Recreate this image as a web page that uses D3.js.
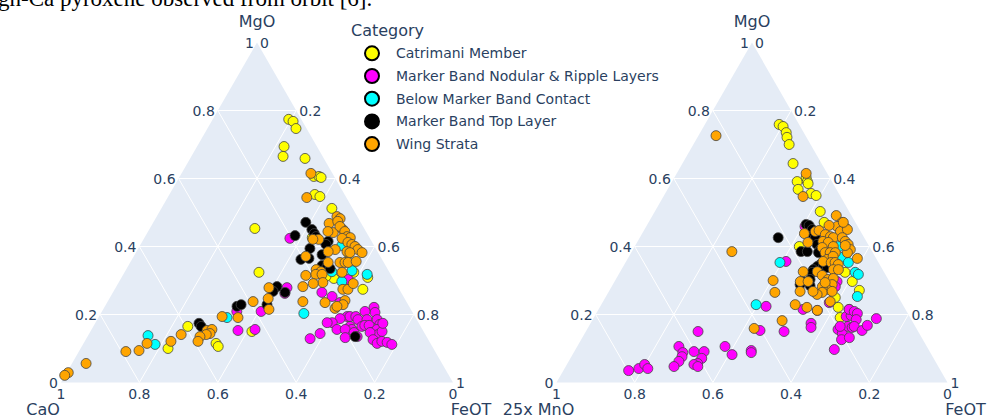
<!DOCTYPE html>
<html>
<head>
<meta charset="utf-8">
<script src="https://cdn.jsdelivr.net/npm/d3@7"></script>
<style>
	body { margin: 0; background: #fff; }
	text { font-family: "DejaVu Sans", Verdana, sans-serif; fill: #2a3f5f; }
</style>
</head>
<body>
<div id="root"></div>
<script>
const C = {
	width: 1002,
	height: 419,
	bg: '#E5ECF6',
	left: { cx: 257, top: 42.5, base: 382.5, half: 196 },
	right: { cx: 752, top: 42.5, base: 382.5, half: 195.5 },
	legend: { x: 351, y: 30, step: 22.7 }
}

// categories and their colours (drawn in this order)
const categories = ['Catrimani Member', 'Marker Band Nodular & Ripple Layers', 'Below Marker Band Contact', 'Marker Band Top Layer', 'Wing Strata']
const colors = ['#ffff00', '#ff00ff', '#00ffff', '#000000', '#ffa500']

const ticks = [0, 0.2, 0.4, 0.6, 0.8, 1]

// left diagram: [MgO, CaO], FeOT is the remainder of the normalised sum
const catrimaniCaO = [[0.774,0.032],[0.768,0.024],[0.747,0.027],[0.694,0.084],[0.665,0.101],[0.659,0.048],[0.606,0.052],[0.606,0.039],[0.603,0.035],[0.553,0.076],[0.547,0.066],[0.512,0.053],[0.453,0.279],[0.324,0.333],[0.426,0.146],[0.379,0.076],[0.324,0.091],[0.306,0.151],[0.312,0.168],[0.309,0.063],[0.274,0.093],[0.165,0.594],[0.1,0.677],[0.115,0.547],[0.106,0.546],[0.15,0.438]]
const noduleCaO = [[0.424,0.204],[0.409,0.120],[0.303,0.116],[0.265,0.202],[0.253,0.182],[0.235,0.171],[0.221,0.091],[0.206,0.096],[0.209,0.120],[0.194,0.173],[0.194,0.166],[0.194,0.151],[0.185,0.150],[0.188,0.194],[0.185,0.127],[0.185,0.101],[0.171,0.101],[0.176,0.220],[0.176,0.233],[0.156,0.218],[0.165,0.180],[0.156,0.180],[0.156,0.197],[0.147,0.179],[0.135,0.177],[0.165,0.150],[0.168,0.141],[0.168,0.130],[0.147,0.133],[0.156,0.116],[0.141,0.121],[0.147,0.138],[0.150,0.106],[0.126,0.141],[0.115,0.136],[0.121,0.121],[0.118,0.109],[0.112,0.100],[0.132,0.209],[0.144,0.267],[0.129,0.300],[0.262,0.298],[0.279,0.284],[0.209,0.447],[0.153,0.472],[0.209,0.385],[0.156,0.427],[0.174,0.092]]
const belowCaO = [[0.326,0.146],[0.297,0.135],[0.329,0.093],[0.318,0.060],[0.203,0.279],[0.191,0.481],[0.138,0.709],[0.112,0.704],[0.403,0.082]]
const topLayerCaO = [[0.471,0.140],[0.45,0.135],[0.438,0.135],[0.429,0.135],[0.432,0.187],[0.415,0.111],[0.406,0.121],[0.394,0.168],[0.376,0.146],[0.362,0.207],[0.365,0.185],[0.344,0.162],[0.341,0.151],[0.335,0.146],[0.265,0.296],[0.135,0.182],[0.282,0.308],[0.268,0.325],[0.224,0.439],[0.229,0.426],[0.229,0.360],[0.174,0.561],[0.165,0.560]]
const wingCaO = [[0.615,0.055],[0.544,0.101],[0.488,0.052],[0.482,0.047],[0.468,0.082],[0.474,0.057],[0.441,0.085],[0.45,0.056],[0.444,0.097],[0.459,0.059],[0.444,0.054],[0.429,0.056],[0.426,0.049],[0.424,0.071],[0.412,0.062],[0.406,0.055],[0.4,0.050],[0.391,0.047],[0.382,0.041],[0.385,0.078],[0.382,0.072],[0.391,0.105],[0.385,0.126],[0.421,0.132],[0.421,0.147],[0.371,0.190],[0.332,0.183],[0.326,0.174],[0.318,0.191],[0.318,0.175],[0.294,0.185],[0.291,0.211],[0.282,0.242],[0.353,0.142],[0.353,0.112],[0.353,0.099],[0.353,0.091],[0.356,0.069],[0.324,0.121],[0.274,0.144],[0.274,0.131],[0.291,0.109],[0.241,0.155],[0.229,0.166],[0.218,0.192],[0.224,0.184],[0.235,0.209],[0.238,0.264],[0.315,0.218],[0.279,0.330],[0.238,0.391],[0.247,0.348],[0.215,0.362],[0.194,0.492],[0.191,0.453],[0.153,0.551],[0.156,0.537],[0.144,0.548],[0.141,0.559],[0.135,0.578],[0.121,0.590],[0.141,0.623],[0.121,0.659],[0.115,0.723],[0.094,0.754],[0.091,0.789],[0.056,0.908],[0.029,0.967],[0.021,0.980]]

// right diagram: [MgO, 25x MnO], FeOT is the remainder
const catrimaniMnO = [[0.759,0.051],[0.753,0.044],[0.735,0.045],[0.721,0.050],[0.7,0.055],[0.644,0.073],[0.591,0.089],[0.603,0.060],[0.591,0.063],[0.585,0.064],[0.568,0.098],[0.556,0.071],[0.55,0.061],[0.503,0.074],[0.471,0.080],[0.4,0.179],[0.324,0.100],[0.297,0.095],[0.271,0.090],[0.221,0.169],[0.191,0.179],[0.25,0.162],[0.215,0.144]]
const noduleMnO = [[0.356,0.235],[0.459,0.135],[0.224,0.352],[0.153,0.403],[0.15,0.343],[0.15,0.563],[0.106,0.634],[0.088,0.633],[0.076,0.641],[0.062,0.656],[0.047,0.676],[0.091,0.603],[0.091,0.577],[0.071,0.593],[0.056,0.611],[0.053,0.622],[0.047,0.615],[0.106,0.516],[0.082,0.510],[0.094,0.455],[0.088,0.458],[0.035,0.798],[0.041,0.769],[0.053,0.748],[0.041,0.746],[0.097,0.241],[0.215,0.262],[0.212,0.227],[0.174,0.262],[0.162,0.268],[0.297,0.134],[0.282,0.146],[0.235,0.185],[0.156,0.202],[0.144,0.197],[0.126,0.208],[0.132,0.185],[0.194,0.162],[0.197,0.148],[0.215,0.144],[0.209,0.134],[0.203,0.129],[0.185,0.141],[0.165,0.172],[0.162,0.163],[0.165,0.156],[0.153,0.142],[0.168,0.121],[0.188,0.088],[0.165,0.192]]
const belowMnO = [[0.4,0.077],[0.368,0.085],[0.353,0.077],[0.324,0.074],[0.318,0.069],[0.253,0.104],[0.353,0.252],[0.229,0.375]]
const topLayerMnO = [[0.465,0.129],[0.462,0.123],[0.45,0.121],[0.435,0.126],[0.426,0.125],[0.406,0.131],[0.391,0.130],[0.382,0.139],[0.385,0.182],[0.385,0.166],[0.426,0.220],[0.347,0.152],[0.341,0.163],[0.332,0.177],[0.324,0.184],[0.297,0.223],[0.288,0.233],[0.285,0.209],[0.303,0.200],[0.341,0.147],[0.338,0.138]]
const wingMnO = [[0.726,0.229],[0.615,0.054],[0.547,0.096],[0.491,0.039],[0.471,0.034],[0.456,0.034],[0.459,0.053],[0.462,0.072],[0.444,0.052],[0.45,0.031],[0.444,0.116],[0.447,0.105],[0.435,0.095],[0.429,0.085],[0.438,0.147],[0.426,0.079],[0.426,0.056],[0.415,0.054],[0.415,0.111],[0.412,0.099],[0.4,0.092],[0.412,0.151],[0.406,0.051],[0.391,0.053],[0.382,0.065],[0.397,0.122],[0.382,0.122],[0.382,0.109],[0.382,0.096],[0.362,0.127],[0.371,0.107],[0.365,0.048],[0.356,0.140],[0.353,0.121],[0.353,0.111],[0.347,0.106],[0.332,0.126],[0.332,0.113],[0.326,0.170],[0.315,0.163],[0.326,0.206],[0.297,0.228],[0.303,0.154],[0.306,0.139],[0.288,0.151],[0.274,0.171],[0.282,0.179],[0.294,0.166],[0.265,0.188],[0.259,0.204],[0.268,0.210],[0.268,0.161],[0.238,0.181],[0.268,0.243],[0.229,0.275],[0.221,0.249],[0.212,0.227],[0.182,0.332],[0.3,0.296],[0.265,0.309],[0.159,0.415],[0.385,0.359],[0.297,0.208],[0.403,0.060],[0.471,0.031]]

const svg = d3.select('#root').append('svg')
	.attr('width', C.width)
	.attr('height', C.height)

// clipped line of the surrounding document text
svg.append('text')
	.attr('x', -2)
	.attr('y', 6)
	.style('font-family', '"Liberation Serif", serif')
	.style('font-size', '23px')
	.style('fill', '#000')
	.text('gh-Ca pyroxene observed from orbit [6].')

drawTernary(C.left, ['CaO', 'FeOT'], [catrimaniCaO, noduleCaO, belowCaO, topLayerCaO, wingCaO])
drawTernary(C.right, ['25x MnO', 'FeOT'], [catrimaniMnO, noduleMnO, belowMnO, topLayerMnO, wingMnO])
drawLegend()

function drawTernary(cfg, titles, series) {
	const g = svg.append('g')

	const aScale = d3.scaleLinear().domain([0, 1]).range([cfg.base, cfg.top])
	const xScale = d3.scaleLinear().domain([-1, 1]).range([cfg.cx - cfg.half, cfg.cx + cfg.half])
	// a = MgO (top), b = bottom-left component, c = FeOT (bottom-right)
	const proj = (a, b, c) => [xScale(c - b), aScale(a)]

	g.append('path')
		.attr('d', d3.line()([proj(1, 0, 0), proj(0, 1, 0), proj(0, 0, 1)]) + 'Z')
		.attr('fill', C.bg)

	const inner = ticks.slice(1, -1)
	const grid = []
	inner.forEach(t => {
		grid.push([proj(t, 1 - t, 0), proj(t, 0, 1 - t)])
		grid.push([proj(1 - t, t, 0), proj(0, t, 1 - t)])
		grid.push([proj(1 - t, 0, t), proj(0, 1 - t, t)])
	})
	g.selectAll('.grid')
		.data(grid)
		.enter()
		.append('path')
		.attr('class', 'grid')
		.attr('d', d => d3.line()(d))
		.attr('stroke', '#fff')
		.attr('stroke-width', 1)
		.attr('fill', 'none')

	const fmt = t => t === 0 ? '0' : t === 1 ? '1' : d3.format('.1f')(t)
	const labels = g.append('g').style('font-size', '14px')

	// MgO ticks on the left edge
	labels.selectAll('.ta').data(ticks).enter().append('text')
		.attr('x', t => proj(t, 1 - t, 0)[0] - 3)
		.attr('y', t => proj(t, 1 - t, 0)[1])
		.attr('dy', '0.36em')
		.attr('text-anchor', 'end')
		.text(fmt)
	// FeOT ticks on the right edge
	labels.selectAll('.tc').data(ticks).enter().append('text')
		.attr('x', t => proj(1 - t, 0, t)[0] + 3)
		.attr('y', t => proj(1 - t, 0, t)[1])
		.attr('dy', '0.36em')
		.attr('text-anchor', 'start')
		.text(fmt)
	// bottom-left component ticks on the base
	labels.selectAll('.tb').data(ticks).enter().append('text')
		.attr('x', t => proj(0, t, 1 - t)[0])
		.attr('y', t => proj(0, t, 1 - t)[1] + 11)
		.attr('dy', '0.36em')
		.attr('text-anchor', 'middle')
		.text(fmt)

	// axis titles
	const tg = g.append('g').style('font-size', '16px').attr('text-anchor', 'middle')
	tg.append('text').attr('x', cfg.cx).attr('y', cfg.top - 16).text('MgO')
	tg.append('text').attr('x', cfg.cx - cfg.half - 18).attr('y', cfg.base + 32).text(titles[0])
	tg.append('text').attr('x', cfg.cx + cfg.half + 18).attr('y', cfg.base + 32).text(titles[1])

	// -- points --
	series.forEach((data, i) => {
		g.append('g').selectAll('circle')
			.data(data)
			.enter()
			.append('circle')
			.attr('cx', d => proj(d[0], d[1], 1 - d[0] - d[1])[0])
			.attr('cy', d => proj(d[0], d[1], 1 - d[0] - d[1])[1])
			.attr('r', 5)
			.attr('fill', colors[i])
			.attr('stroke', '#444')
			.attr('stroke-width', 0.8)
	})
}

function drawLegend() {
	const L = C.legend
	const lg = svg.append('g')
	lg.append('text')
		.attr('x', L.x)
		.attr('y', L.y)
		.attr('dy', '0.36em')
		.style('font-size', '16px')
		.text('Category')

	const items = lg.selectAll('.item')
		.data(categories)
		.enter()
		.append('g')
		.attr('class', 'item')
		.attr('transform', (d, i) => `translate(${L.x + 21},${L.y + 23.3 + i * L.step})`)

	items.append('circle')
		.attr('r', 7)
		.attr('fill', (d, i) => colors[i])
		.attr('stroke', '#000')
		.attr('stroke-width', 2)

	items.append('text')
		.attr('x', 24)
		.attr('dy', '0.36em')
		.style('font-size', '14px')
		.text(d => d)
}
</script>
</body>
</html>
